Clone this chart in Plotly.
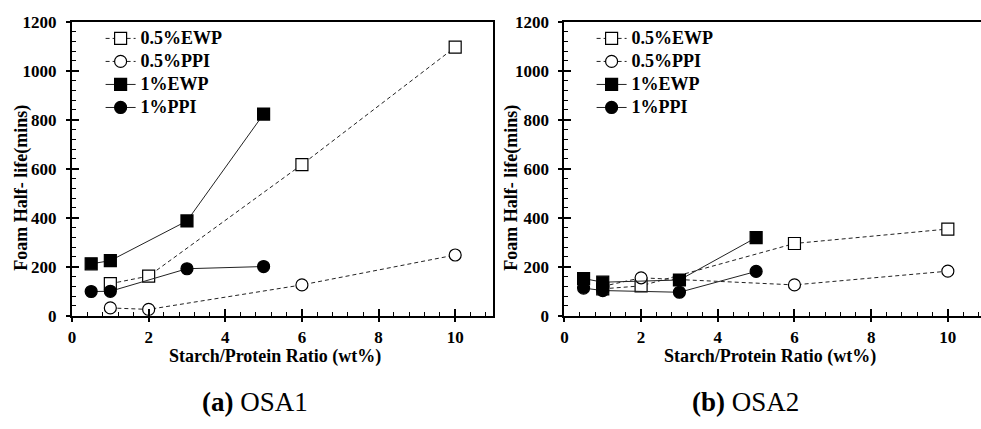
import plotly.graph_objects as go

W, H = 981, 429

# ---- data ----
x_05 = [1, 2, 6, 10]
x_1 = [0.5, 1, 3, 5]
series_names = ["0.5%EWP", "0.5%PPI", "1%EWP", "1%PPI"]

a_ewp05 = [131, 162, 617, 1096]
a_ppi05 = [32, 26, 126, 248]
a_ewp1 = [212, 225, 387, 823]
a_ppi1 = [99, 100, 192, 201]

b_ewp05 = [110, 122, 295, 354]
b_ppi05 = [120, 155, 126, 182]
b_ewp1 = [152, 137, 146, 319]
b_ppi1 = [113, 103, 96, 181]

y_ticks = [0, 200, 400, 600, 800, 1000, 1200]
x_ticks = [0, 2, 4, 6, 8, 10]

FONT = "Liberation Serif"


def px(x):
    return x / W


def py(y):
    return 1 - y / H


fig = go.Figure()

styles = [
    dict(symbol="square", color="white", dash="4px,3px"),
    dict(symbol="circle", color="white", dash="4px,3px"),
    dict(symbol="square", color="black", dash="solid"),
    dict(symbol="circle", color="black", dash="solid"),
]

panels = [
    ("x", "y", "legend", [a_ewp05, a_ppi05, a_ewp1, a_ppi1]),
    ("x2", "y2", "legend2", [b_ewp05, b_ppi05, b_ewp1, b_ppi1]),
]
for xa, ya, lg, data in panels:
    for i, (name, vals, st) in enumerate(zip(series_names, data, styles)):
        xs = x_05 if i < 2 else x_1
        fig.add_trace(go.Scatter(
            x=xs, y=vals, name='<span style="font-size:18px">%s</span>' % name,
            mode="lines+markers",
            xaxis=xa, yaxis=ya, legend=lg,
            line=dict(color="#222222", width=1, dash=st["dash"]),
            marker=dict(symbol=st["symbol"], size=12, color=st["color"],
                        line=dict(color="black", width=1.2)),
        ))

# dummy traces for overlay tick axes
for xa, ya in [("x3", "y3"), ("x4", "y4")]:
    fig.add_trace(go.Scatter(x=[None], y=[None], xaxis=xa, yaxis=ya,
                             showlegend=False, hoverinfo="skip"))

tickfont = dict(family=FONT, size=17, color="black", weight="bold")

y_dom = [py(321), py(13.3)]
xa_dom = [px(68.3), px(491.5)]
xb_dom = [px(562.7), 1.0]
xb_max = (981 - 562.7) / 38.5

common_x = dict(showgrid=False, zeroline=False, showline=True, linecolor="black",
                linewidth=2, ticks="outside", ticklen=4, tickwidth=1.5,
                tickcolor="black", tickvals=x_ticks, tickfont=tickfont,
                ticklabelstandoff=1)
common_y = dict(showgrid=False, zeroline=False, showline=True, linecolor="black",
                linewidth=2, ticks="outside", ticklen=4, tickwidth=1.5,
                tickcolor="black", tickvals=y_ticks, tickfont=tickfont,
                range=[0, 1200], ticklabelstandoff=6)

over_x = dict(showgrid=False, zeroline=False, showline=False, showticklabels=False,
              ticks="inside", ticklen=7, tickwidth=1.5, tickcolor="black",
              tickvals=x_ticks,
              minor=dict(ticks="inside", ticklen=4, tickwidth=1, tickcolor="black",
                         dtick=0.4, tick0=0, showgrid=False))
over_y = dict(showgrid=False, zeroline=False, showline=False, showticklabels=False,
              ticks="inside", ticklen=7, tickwidth=1.5, tickcolor="black",
              tickvals=y_ticks, range=[0, 1200],
              minor=dict(ticks="inside", ticklen=4, tickwidth=1, tickcolor="black",
                         dtick=40, tick0=0, showgrid=False))

legend_common = dict(xanchor="left", yanchor="top", bgcolor="rgba(0,0,0,0)",
                     borderwidth=0, font=dict(family=FONT, size=15.4, color="black",
                                              weight="bold"),
                     tracegroupgap=0, itemwidth=30)

fig.update_layout(
    width=W, height=H,
    margin=dict(l=0, r=0, t=0, b=0),
    paper_bgcolor="white", plot_bgcolor="white",
    showlegend=True,
    xaxis=dict(domain=xa_dom, range=[0, 11], anchor="y", mirror=True, **common_x),
    yaxis=dict(domain=y_dom, anchor="x", mirror=True, **common_y),
    xaxis2=dict(domain=xb_dom, range=[0, xb_max], anchor="y2", mirror=True, **common_x),
    yaxis2=dict(domain=y_dom, anchor="x2", mirror=False, **common_y),
    xaxis3=dict(overlaying="x", range=[0, 11], anchor="y3", **over_x),
    yaxis3=dict(overlaying="y", anchor="x3", **over_y),
    xaxis4=dict(overlaying="x2", range=[0, xb_max], anchor="y4", **over_x),
    yaxis4=dict(overlaying="y2", anchor="x4", **over_y),
    legend=dict(x=px(97), y=py(13.5), **legend_common),
    legend2=dict(x=px(590), y=py(13.5), **legend_common),
)

title_font = dict(family=FONT, size=18, color="black", weight="bold")
ann = [
    dict(text="Foam Half- life(mins)", x=px(18), y=py(187), textangle=-90),
    dict(text="Foam Half- life(mins)", x=px(510), y=py(187), textangle=-90),
    dict(text="Starch/Protein Ratio (wt%)", x=px(272), y=py(364)),
    dict(text="Starch/Protein Ratio (wt%)", x=px(769), y=py(364)),
]
for a in ann:
    fig.add_annotation(xref="paper", yref="paper", showarrow=False,
                       xanchor="center", yanchor="middle", font=title_font,
                       borderpad=0, **a)

cap_font = dict(family=FONT, size=27, color="black")
fig.add_annotation(text="<b>(a)</b> OSA1", x=px(252), y=py(411), xref="paper",
                   yref="paper", showarrow=False, xanchor="center", yanchor="middle",
                   font=cap_font)
fig.add_annotation(text="<b>(b)</b> OSA2", x=px(745), y=py(411), xref="paper",
                   yref="paper", showarrow=False, xanchor="center", yanchor="middle",
                   font=cap_font)

fig.write_html("out.html",
               post_script="document.body.style.margin='0';"
                           "document.body.style.overflow='hidden';")
